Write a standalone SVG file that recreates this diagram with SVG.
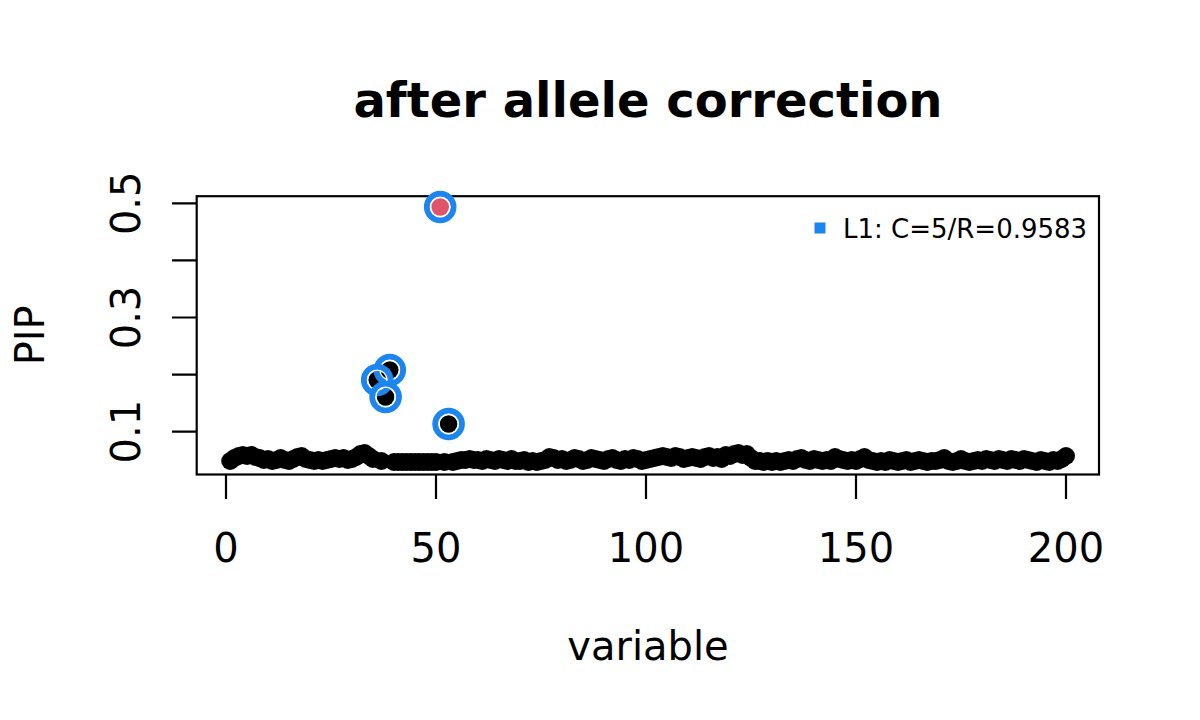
<svg xmlns="http://www.w3.org/2000/svg" width="1200" height="720" viewBox="0 0 1200 720">
<style>
text{font-family:"DejaVu Sans","Liberation Sans",sans-serif;fill:#000}
.ax{font-size:40px}
.ln{stroke:#000;stroke-width:2.2;fill:none;stroke-linecap:butt}
.pt{fill:#000}
.ring{fill:none;stroke:#1C86EE;stroke-width:6}
.gap{fill:none;stroke:#fff;stroke-width:1.3}
</style>
<defs><circle id="p" r="9"/></defs>
<rect width="1200" height="720" fill="#fff"/>
<g id="title"><text x="648" y="117" text-anchor="middle" font-size="48" font-weight="bold">after allele correction</text></g>
<g id="axes">
<rect class="ln" x="196.7" y="196.2" width="902.3" height="278.3"/>
<path class="ln" d="M196.7 431.7H172M196.7 374.6H172M196.7 317.5H172M196.7 260.4H172M196.7 203.3H172"/>
<path class="ln" d="M226 474.5V499M436 474.5V499M646 474.5V499M856 474.5V499M1066 474.5V499"/>
<g class="ax" text-anchor="middle">
<text x="226" y="562">0</text><text x="436" y="562">50</text><text x="646" y="562">100</text><text x="856" y="562">150</text><text x="1066" y="562">200</text>
<text transform="translate(140 431.7) rotate(-90)">0.1</text>
<text transform="translate(140 317.5) rotate(-90)">0.3</text>
<text transform="translate(140 203.3) rotate(-90)">0.5</text>
<text x="648" y="660">variable</text>
<text transform="translate(44 335.3) rotate(-90)">PIP</text>
</g>
</g>
<g id="points" class="pt" transform="translate(0 -3)">
<circle cx="230.2" cy="464" r="9"/><circle cx="234.4" cy="461" r="9"/><circle cx="238.6" cy="459" r="9"/><circle cx="242.8" cy="458" r="9"/><circle cx="247" cy="459" r="9"/><circle cx="251.2" cy="458" r="9"/><circle cx="255.4" cy="460" r="9"/><circle cx="259.6" cy="461" r="9"/><circle cx="263.8" cy="463" r="9"/><circle cx="268" cy="462" r="9"/>
<circle cx="272.2" cy="464" r="9"/><circle cx="276.4" cy="463" r="9"/><circle cx="280.6" cy="461" r="9"/><circle cx="284.8" cy="463" r="9"/><circle cx="289" cy="464" r="9"/><circle cx="293.2" cy="462" r="9"/><circle cx="297.4" cy="460" r="9"/><circle cx="301.6" cy="459" r="9"/><circle cx="305.8" cy="462" r="9"/><circle cx="310" cy="463" r="9"/>
<circle cx="314.2" cy="464" r="9"/><circle cx="318.4" cy="463" r="9"/><circle cx="322.6" cy="464" r="9"/><circle cx="326.8" cy="463" r="9"/><circle cx="331" cy="462" r="9"/><circle cx="335.2" cy="461" r="9"/><circle cx="339.4" cy="462" r="9"/><circle cx="343.6" cy="461" r="9"/><circle cx="347.8" cy="463" r="9"/><circle cx="352" cy="462" r="9"/>
<circle cx="356.2" cy="460" r="9"/><circle cx="360.4" cy="457" r="9"/><circle cx="364.6" cy="456" r="9"/><circle cx="368.8" cy="459" r="9"/><circle cx="373" cy="462" r="9"/><circle cx="381.4" cy="464" r="9"/><circle cx="394" cy="465" r="9"/>
<circle cx="398.2" cy="465" r="9"/><circle cx="402.4" cy="465" r="9"/><circle cx="406.6" cy="465" r="9"/><circle cx="410.8" cy="465" r="9"/><circle cx="415" cy="465" r="9"/><circle cx="419.2" cy="465" r="9"/><circle cx="423.4" cy="465" r="9"/><circle cx="427.6" cy="465" r="9"/><circle cx="431.8" cy="465" r="9"/><circle cx="436" cy="465" r="9"/>
<circle cx="444.4" cy="465" r="9"/><circle cx="452.8" cy="465" r="9"/><circle cx="457" cy="464" r="9"/><circle cx="461.2" cy="463" r="9"/><circle cx="465.4" cy="463" r="9"/><circle cx="469.6" cy="462" r="9"/><circle cx="473.8" cy="463" r="9"/><circle cx="478" cy="463" r="9"/>
<circle cx="482.2" cy="464" r="9"/><circle cx="486.4" cy="462" r="9"/><circle cx="490.6" cy="463" r="9"/><circle cx="494.8" cy="464" r="9"/><circle cx="499" cy="462" r="9"/><circle cx="503.2" cy="463" r="9"/><circle cx="507.4" cy="464" r="9"/><circle cx="511.6" cy="462" r="9"/><circle cx="515.8" cy="464" r="9"/><circle cx="520" cy="464" r="9"/>
<circle cx="524.2" cy="463" r="9"/><circle cx="528.4" cy="465" r="9"/><circle cx="532.6" cy="464" r="9"/><circle cx="536.8" cy="465" r="9"/><circle cx="541" cy="464" r="9"/><circle cx="545.2" cy="463" r="9"/><circle cx="549.4" cy="460" r="9"/><circle cx="553.6" cy="461" r="9"/><circle cx="557.8" cy="463" r="9"/><circle cx="562" cy="462" r="9"/>
<circle cx="566.2" cy="464" r="9"/><circle cx="570.4" cy="463" r="9"/><circle cx="574.6" cy="461" r="9"/><circle cx="578.8" cy="462" r="9"/><circle cx="583" cy="464" r="9"/><circle cx="587.2" cy="463" r="9"/><circle cx="591.4" cy="461" r="9"/><circle cx="595.6" cy="462" r="9"/><circle cx="599.8" cy="463" r="9"/><circle cx="604" cy="464" r="9"/>
<circle cx="608.2" cy="462" r="9"/><circle cx="612.4" cy="461" r="9"/><circle cx="616.6" cy="463" r="9"/><circle cx="620.8" cy="464" r="9"/><circle cx="625" cy="462" r="9"/><circle cx="629.2" cy="463" r="9"/><circle cx="633.4" cy="461" r="9"/><circle cx="637.6" cy="462" r="9"/><circle cx="641.8" cy="464" r="9"/><circle cx="646" cy="463" r="9"/>
<circle cx="650.2" cy="462" r="9"/><circle cx="654.4" cy="461" r="9"/><circle cx="658.6" cy="460" r="9"/><circle cx="662.8" cy="459" r="9"/><circle cx="667" cy="460" r="9"/><circle cx="671.2" cy="461" r="9"/><circle cx="675.4" cy="459" r="9"/><circle cx="679.6" cy="460" r="9"/><circle cx="683.8" cy="462" r="9"/><circle cx="688" cy="461" r="9"/>
<circle cx="692.2" cy="460" r="9"/><circle cx="696.4" cy="461" r="9"/><circle cx="700.6" cy="462" r="9"/><circle cx="704.8" cy="460" r="9"/><circle cx="709" cy="459" r="9"/><circle cx="713.2" cy="461" r="9"/><circle cx="717.4" cy="460" r="9"/><circle cx="721.6" cy="462" r="9"/><circle cx="725.8" cy="458" r="9"/><circle cx="730" cy="459" r="9"/>
<circle cx="734.2" cy="457" r="9"/><circle cx="738.4" cy="456" r="9"/><circle cx="742.6" cy="458" r="9"/><circle cx="746.8" cy="457" r="9"/><circle cx="751" cy="461" r="9"/><circle cx="755.2" cy="464" r="9"/><circle cx="759.4" cy="464" r="9"/><circle cx="763.6" cy="465" r="9"/><circle cx="767.8" cy="464" r="9"/><circle cx="772" cy="465" r="9"/>
<circle cx="776.2" cy="464" r="9"/><circle cx="780.4" cy="465" r="9"/><circle cx="784.6" cy="464" r="9"/><circle cx="788.8" cy="463" r="9"/><circle cx="793" cy="464" r="9"/><circle cx="797.2" cy="462" r="9"/><circle cx="801.4" cy="461" r="9"/><circle cx="805.6" cy="463" r="9"/><circle cx="809.8" cy="464" r="9"/><circle cx="814" cy="462" r="9"/>
<circle cx="818.2" cy="463" r="9"/><circle cx="822.4" cy="464" r="9"/><circle cx="826.6" cy="463" r="9"/><circle cx="830.8" cy="464" r="9"/><circle cx="835" cy="460" r="9"/><circle cx="839.2" cy="462" r="9"/><circle cx="843.4" cy="463" r="9"/><circle cx="847.6" cy="464" r="9"/><circle cx="851.8" cy="463" r="9"/><circle cx="856" cy="464" r="9"/>
<circle cx="860.2" cy="462" r="9"/><circle cx="864.4" cy="460" r="9"/><circle cx="868.6" cy="463" r="9"/><circle cx="872.8" cy="464" r="9"/><circle cx="877" cy="465" r="9"/><circle cx="881.2" cy="464" r="9"/><circle cx="885.4" cy="465" r="9"/><circle cx="889.6" cy="463" r="9"/><circle cx="893.8" cy="464" r="9"/><circle cx="898" cy="465" r="9"/>
<circle cx="902.2" cy="464" r="9"/><circle cx="906.4" cy="463" r="9"/><circle cx="910.6" cy="465" r="9"/><circle cx="914.8" cy="464" r="9"/><circle cx="919" cy="463" r="9"/><circle cx="923.2" cy="464" r="9"/><circle cx="927.4" cy="465" r="9"/><circle cx="931.6" cy="464" r="9"/><circle cx="935.8" cy="464" r="9"/><circle cx="940" cy="463" r="9"/>
<circle cx="944.2" cy="461" r="9"/><circle cx="948.4" cy="464" r="9"/><circle cx="952.6" cy="465" r="9"/><circle cx="956.8" cy="464" r="9"/><circle cx="961" cy="462" r="9"/><circle cx="965.2" cy="464" r="9"/><circle cx="969.4" cy="465" r="9"/><circle cx="973.6" cy="464" r="9"/><circle cx="977.8" cy="463" r="9"/><circle cx="982" cy="464" r="9"/>
<circle cx="986.2" cy="462" r="9"/><circle cx="990.4" cy="463" r="9"/><circle cx="994.6" cy="464" r="9"/><circle cx="998.8" cy="462" r="9"/><circle cx="1003" cy="463" r="9"/><circle cx="1007.2" cy="464" r="9"/><circle cx="1011.4" cy="462" r="9"/><circle cx="1015.6" cy="463" r="9"/><circle cx="1019.8" cy="464" r="9"/><circle cx="1024" cy="462" r="9"/>
<circle cx="1028.2" cy="463" r="9"/><circle cx="1032.4" cy="464" r="9"/><circle cx="1036.6" cy="465" r="9"/><circle cx="1040.8" cy="463" r="9"/><circle cx="1045" cy="464" r="9"/><circle cx="1049.2" cy="465" r="9"/><circle cx="1053.4" cy="463" r="9"/><circle cx="1057.6" cy="464" r="9"/><circle cx="1061.8" cy="462" r="9"/><circle cx="1066" cy="459" r="9"/>
</g>
<g id="highlights">
<circle class="pt" cx="377.2" cy="380" r="8.8"/>
<circle class="pt" cx="385.6" cy="397" r="8.8"/>
<circle class="pt" cx="389.8" cy="370" r="8.8"/>
<circle class="pt" cx="448.6" cy="424" r="8.8"/>
<circle class="ring" cx="389.8" cy="370" r="13.3"/><circle class="gap" cx="389.8" cy="370" r="9.8"/>
<circle class="ring" cx="377.2" cy="380" r="13.3"/><circle class="gap" cx="377.2" cy="380" r="9.8"/>
<circle class="ring" cx="385.6" cy="397" r="13.3"/><circle class="gap" cx="385.6" cy="397" r="9.8"/>
<circle class="ring" cx="448.6" cy="424" r="13.3"/><circle class="gap" cx="448.6" cy="424" r="9.8"/>
<circle class="ring" cx="440.2" cy="207" r="13.3"/><circle class="gap" cx="440.2" cy="207" r="9.8"/>
<circle cx="440.2" cy="207" r="8.8" fill="#DF536B"/>
</g>
<g id="legend">
<rect x="814.5" y="222.5" width="11" height="11" fill="#1C86EE"/>
<text x="843" y="238" font-size="26">L1: C=5/R=0.9583</text>
</g>
</svg>
